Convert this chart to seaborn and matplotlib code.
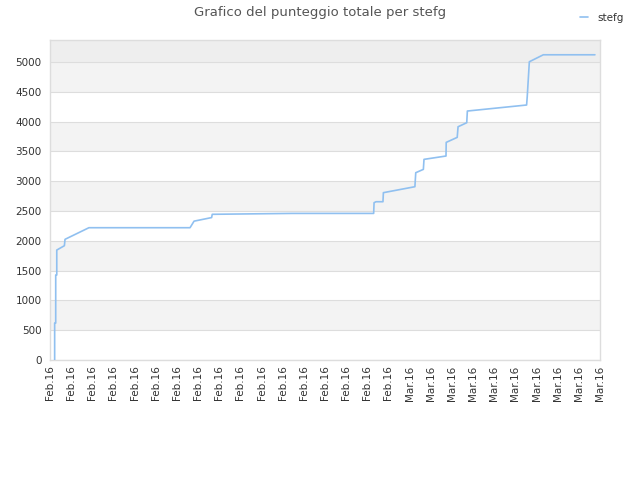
import pandas as pd
import matplotlib
matplotlib.use("Agg")
import matplotlib.pyplot as plt
import matplotlib.dates as mdates
import seaborn as sns

# Total score for stefg (days after 13 Feb 2016)
days = [0.22, 0.22, 0.27, 0.27, 0.32, 0.32, 0.68, 0.71, 1.84, 6.62, 6.81, 7.64, 7.67,
        11.44, 15.30, 15.32, 15.41, 15.74, 15.76, 17.25, 17.29, 17.65, 17.68, 18.72,
        18.73, 19.25, 19.29, 19.70, 19.73, 22.53, 22.56, 22.66, 23.32, 25.76]
scores = [0, 620, 620, 1426, 1426, 1845, 1918, 2025, 2220, 2220, 2330, 2390, 2445,
          2460, 2460, 2640, 2656, 2656, 2808, 2908, 3143, 3199, 3367, 3423,
          3652, 3736, 3914, 3982, 4178, 4279, 4418, 5005, 5122, 5122]
player = "stefg"
y_ticks = list(range(0, 5001, 500))

start = pd.Timestamp("2016-02-13")
df = pd.DataFrame({"time": [start + pd.Timedelta(days=d) for d in days],
                   "score": scores, "player": player})

sns.set_style("white")
plt.rcParams['font.family'] = ['DejaVu Sans']

fig = plt.figure(figsize=(6.4, 4.8), dpi=100)
ax = fig.add_axes([50 / 640, 120 / 480, 550 / 640, 320 / 480])

ymax = 5370
# alternating bands between the grid lines
for i, lo in enumerate(y_ticks[:-1]):
    if i % 2 == 1:
        ax.axhspan(lo, lo + 500, color="#f3f3f3", zorder=0, lw=0)
ax.axhspan(5000, ymax, color="#eeeeee", zorder=0, lw=0)
for t in y_ticks:
    ax.axhline(t, color="#dddddd", lw=0.8, zorder=1)

sns.lineplot(data=df, x="time", y="score", estimator=None, sort=False,
             color="#90c0f0", lw=1.2, ax=ax, label=player, zorder=3)

ax.set_ylim(0, ymax)
ax.set_xlim(start, start + pd.Timedelta(days=26))
ax.set_yticks(y_ticks)
ax.xaxis.set_major_locator(mdates.DayLocator())
ax.xaxis.set_major_formatter(mdates.DateFormatter("%b.%y"))
ax.tick_params(axis="x", rotation=90, labelsize=7.5, colors="#333333", length=0, pad=4)
ax.tick_params(axis="y", labelsize=7.5, colors="#333333", length=0, pad=6)
ax.set_xlabel("")
ax.set_ylabel("")
for s in ax.spines.values():
    s.set_color("#dddddd")
    s.set_linewidth(1)

fig.suptitle("Grafico del punteggio totale per stefg", x=0.5, y=0.988,
             fontsize=9.5, color="#555555")
leg = ax.legend(loc="upper right", bbox_to_anchor=(1.0 + 33 / 550, 1.115),
                frameon=False, fontsize=7.5, handlelength=0.8, handletextpad=0.9)
for txt in leg.get_texts():
    txt.set_color("#333333")

fig.savefig("out.png", dpi=100)
